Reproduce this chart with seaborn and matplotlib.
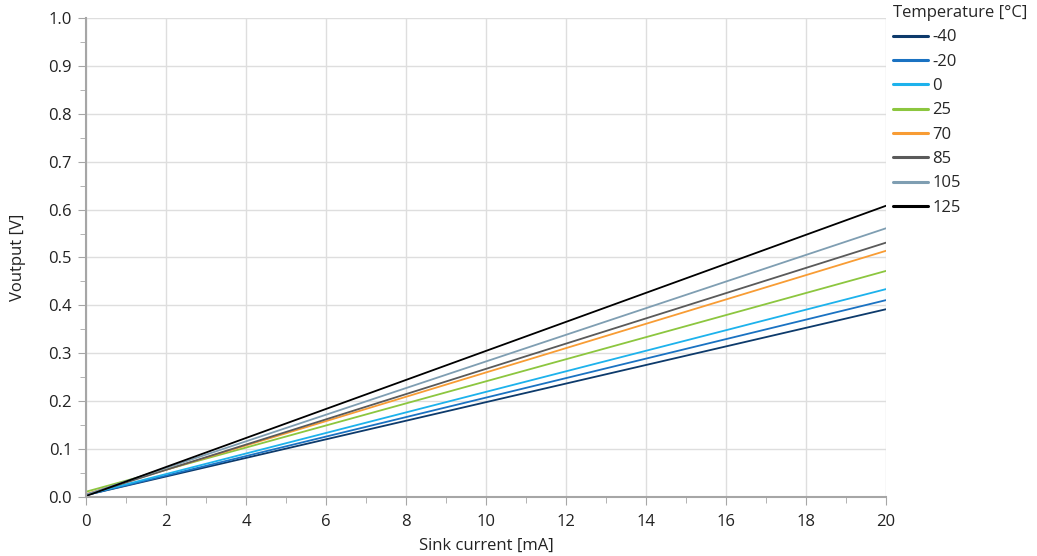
import numpy as np
import pandas as pd
import seaborn as sns
import matplotlib.pyplot as plt
from matplotlib.ticker import MultipleLocator

# Sink current [mA] and output voltage [V] read at the ends of each line
current = [0, 20]
temps = ['-40', '-20', '0', '25', '70', '85', '105', '125']
v_start = [0.004, 0.004, 0.005, 0.011, 0.006, 0.004, 0.005, 0.002]
v_end = [0.392, 0.411, 0.434, 0.472, 0.514, 0.531, 0.561, 0.608]
colors = ['#0d3a6b', '#1a72c2', '#1db2ec', '#8cc63f', '#f89c34', '#5a5a5a', '#7f9eb2', '#000000']

rows = []
for t, a, b in zip(temps, v_start, v_end):
    rows.append({'current': current[0], 'voltage': a, 'temp': t})
    rows.append({'current': current[1], 'voltage': b, 'temp': t})
df = pd.DataFrame(rows)

sns.set_style('white')
plt.rcParams['font.family'] = ['Open Sans', 'DejaVu Sans']

fig = plt.figure(figsize=(10.37, 5.56), dpi=100)
ax = fig.add_axes([86 / 1037, 1 - 497 / 556, 800 / 1037, 479 / 556])

sns.lineplot(data=df, x='current', y='voltage', hue='temp', hue_order=temps,
             palette=colors, linewidth=1.3, ax=ax)

ax.set_xlim(0, 20)
ax.set_ylim(0, 1.0)
ax.xaxis.set_major_locator(MultipleLocator(2))
ax.xaxis.set_minor_locator(MultipleLocator(1))
ax.yaxis.set_major_locator(MultipleLocator(0.1))
ax.yaxis.set_minor_locator(MultipleLocator(0.05))
ax.yaxis.set_major_formatter(plt.FormatStrFormatter('%.1f'))
ax.grid(True, which='major', color='#dedede', linewidth=1)
for s in ['top', 'right']:
    ax.spines[s].set_visible(False)
for s in ['left', 'bottom']:
    ax.spines[s].set_color('#a6a6a6')
    ax.spines[s].set_linewidth(1.5)
ax.tick_params(which='major', direction='out', length=6, color='#a6a6a6',
               labelsize=12, labelcolor='#222222', left=True, bottom=True, pad=4)
ax.tick_params(axis='x', which='major', pad=6)
ax.tick_params(which='minor', direction='out', length=4, color='#a6a6a6',
               left=True, bottom=True)
ax.set_xlabel('Sink current [mA]', fontsize=12, color='#222222', labelpad=6)
ax.set_ylabel('Voutput [V]', fontsize=12, color='#222222', labelpad=16)

leg = ax.legend(title='Temperature [°C]', loc='upper left',
                bbox_to_anchor=(890 / 1037, 0.997), bbox_transform=fig.transFigure,
                frameon=False, fontsize=12, title_fontsize=12,
                handlelength=2.1, handletextpad=0.25, labelspacing=0.5,
                borderaxespad=0, borderpad=0.2)
leg._legend_box.align = 'left'
for h in leg.get_lines():
    h.set_linewidth(2.2)

fig.savefig('out.png', dpi=100)
